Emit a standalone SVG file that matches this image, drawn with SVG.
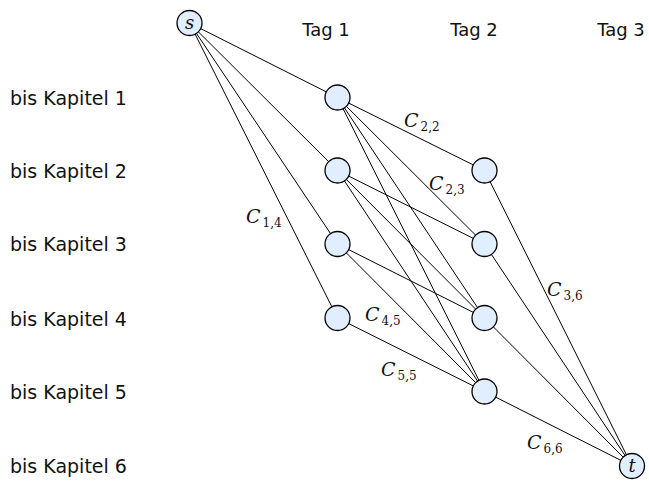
<svg xmlns="http://www.w3.org/2000/svg" width="649" height="483" viewBox="0 0 649 483">
  <style>
    .edge { stroke: #000; stroke-width: 1; fill: none; }
    .node { fill: #e0eeff; stroke: #000; stroke-width: 1.3; }
    .lbl { font-family: "DejaVu Sans", sans-serif; font-size: 18px; fill: #111; }
    .row { font-size: 19px; }
    .cost { font-family: "DejaVu Serif", serif; font-style: italic; font-size: 19px; fill: #111; }
    .sub { font-family: "DejaVu Serif", serif; font-style: normal; font-size: 12px; }
    .nl { font-family: "DejaVu Serif", serif; font-style: italic; font-size: 18px; fill: #111; text-anchor: middle; }
  </style>

  <!-- column and row headings -->
  <g id="headings">
    <text class="lbl" x="326" y="36" text-anchor="middle">Tag 1</text>
    <text class="lbl" x="474" y="36" text-anchor="middle">Tag 2</text>
    <text class="lbl" x="621" y="36" text-anchor="middle">Tag 3</text>
    <text class="lbl row" x="10" y="105">bis Kapitel 1</text>
    <text class="lbl row" x="10" y="178">bis Kapitel 2</text>
    <text class="lbl row" x="10" y="251">bis Kapitel 3</text>
    <text class="lbl row" x="10" y="326">bis Kapitel 4</text>
    <text class="lbl row" x="10" y="399">bis Kapitel 5</text>
    <text class="lbl row" x="10" y="473">bis Kapitel 6</text>
  </g>

  <g id="connectors">
    <!-- s to day 1 -->
    <line class="edge" x1="189.5" y1="23" x2="337.5" y2="97.5"/>
    <line class="edge" x1="189.5" y1="23" x2="337.5" y2="170.5"/>
    <line class="edge" x1="189.5" y1="23" x2="337.5" y2="244"/>
    <line class="edge" x1="189.5" y1="23" x2="337.5" y2="318"/>
    <!-- day 1 to day 2 -->
    <line class="edge" x1="337.5" y1="97.5" x2="484.5" y2="170.5"/>
    <line class="edge" x1="337.5" y1="97.5" x2="484.5" y2="244"/>
    <line class="edge" x1="337.5" y1="97.5" x2="484.5" y2="318"/>
    <line class="edge" x1="337.5" y1="97.5" x2="484.5" y2="391.5"/>
    <line class="edge" x1="337.5" y1="170.5" x2="484.5" y2="244"/>
    <line class="edge" x1="337.5" y1="170.5" x2="484.5" y2="318"/>
    <line class="edge" x1="337.5" y1="170.5" x2="484.5" y2="391.5"/>
    <line class="edge" x1="337.5" y1="244" x2="484.5" y2="318"/>
    <line class="edge" x1="337.5" y1="244" x2="484.5" y2="391.5"/>
    <line class="edge" x1="337.5" y1="318" x2="484.5" y2="391.5"/>
    <!-- day 2 to t -->
    <line class="edge" x1="484.5" y1="170.5" x2="632" y2="466"/>
    <line class="edge" x1="484.5" y1="244" x2="632" y2="466"/>
    <line class="edge" x1="484.5" y1="318" x2="632" y2="466"/>
    <line class="edge" x1="484.5" y1="391.5" x2="632" y2="466"/>
  </g>

  <g id="edge-labels">
    <text class="cost" x="404" y="127">C<tspan class="sub" dx="2" dy="4">2,2</tspan></text>
    <text class="cost" x="429" y="190">C<tspan class="sub" dx="2" dy="4">2,3</tspan></text>
    <text class="cost" x="246" y="223">C<tspan class="sub" dx="2" dy="4">1,4</tspan></text>
    <text class="cost" x="365" y="321">C<tspan class="sub" dx="2" dy="4">4,5</tspan></text>
    <text class="cost" x="381" y="376">C<tspan class="sub" dx="2" dy="4">5,5</tspan></text>
    <text class="cost" x="547" y="296">C<tspan class="sub" dx="2" dy="4">3,6</tspan></text>
    <text class="cost" x="527" y="449">C<tspan class="sub" dx="2" dy="4">6,6</tspan></text>
  </g>

  <g id="node-s"><circle class="node" cx="189.5" cy="23" r="12.5"/><text class="nl" x="189.5" y="29">s</text></g>
  <g id="node-1-1"><circle class="node" cx="337.5" cy="97.5" r="12.5"/></g>
  <g id="node-1-2"><circle class="node" cx="337.5" cy="170.5" r="12.5"/></g>
  <g id="node-1-3"><circle class="node" cx="337.5" cy="244" r="12.5"/></g>
  <g id="node-1-4"><circle class="node" cx="337.5" cy="318" r="12.5"/></g>
  <g id="node-2-2"><circle class="node" cx="484.5" cy="170.5" r="12.5"/></g>
  <g id="node-2-3"><circle class="node" cx="484.5" cy="244" r="12.5"/></g>
  <g id="node-2-4"><circle class="node" cx="484.5" cy="318" r="12.5"/></g>
  <g id="node-2-5"><circle class="node" cx="484.5" cy="391.5" r="12.5"/></g>
  <g id="node-t"><circle class="node" cx="632" cy="466" r="12.5"/><text class="nl" x="632" y="472">t</text></g>
</svg>
